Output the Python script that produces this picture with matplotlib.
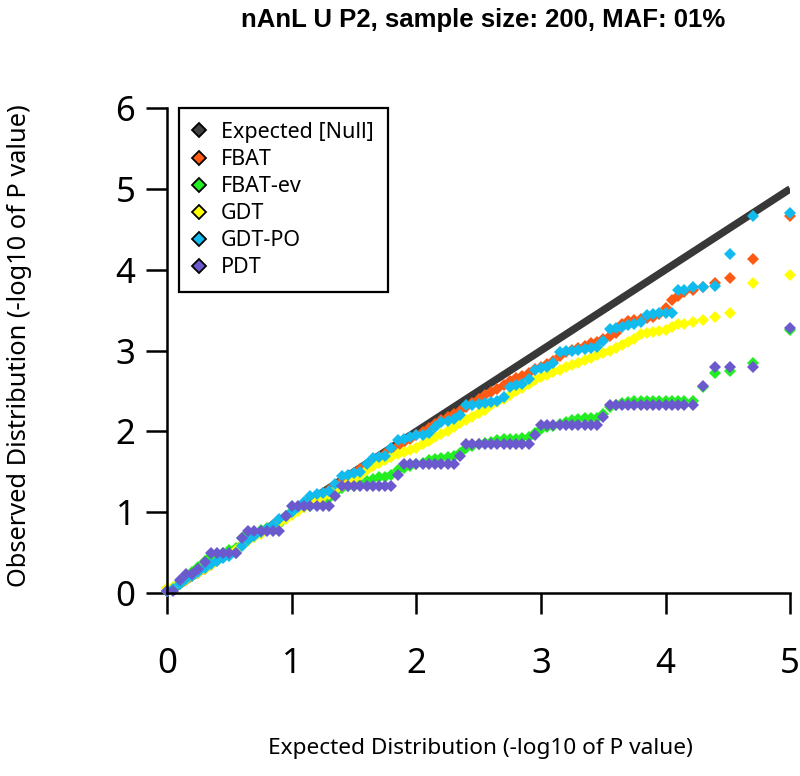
import matplotlib
matplotlib.use("Agg")
import matplotlib.pyplot as plt
from matplotlib.lines import Line2D

# expected -log10(p) positions (dense part, then the ten smallest p values)
expected = [0.00, 0.05, 0.10, 0.15, 0.20, 0.25, 0.30, 0.35, 0.40, 0.45,
            0.50, 0.55, 0.60, 0.65, 0.70, 0.75, 0.80, 0.85, 0.90, 0.95,
            1.00, 1.05, 1.10, 1.15, 1.20, 1.25, 1.30, 1.35, 1.40, 1.45,
            1.50, 1.55, 1.60, 1.65, 1.70, 1.75, 1.80, 1.85, 1.90, 1.95,
            2.00, 2.05, 2.10, 2.15, 2.20, 2.25, 2.30, 2.35, 2.40, 2.45,
            2.50, 2.55, 2.60, 2.65, 2.70, 2.75, 2.80, 2.85, 2.90, 2.95,
            3.00, 3.05, 3.10, 3.15, 3.20, 3.25, 3.30, 3.35, 3.40, 3.45,
            3.50, 3.55, 3.60, 3.65, 3.70, 3.75, 3.80, 3.85, 3.90, 3.95,
            4.00, 4.05, 4.10, 4.15, 4.22, 4.30, 4.40, 4.52, 4.70, 5.00]

fbat = [0.02, 0.06, 0.11, 0.16, 0.21, 0.25, 0.30, 0.35, 0.40, 0.45,
        0.49, 0.54, 0.60, 0.65, 0.70, 0.74, 0.79, 0.84, 0.89, 0.94,
        0.99, 1.04, 1.09, 1.14, 1.19, 1.24, 1.28, 1.33, 1.38, 1.43,
        1.48, 1.53, 1.58, 1.63, 1.68, 1.72, 1.77, 1.82, 1.87, 1.91,
        1.95, 1.99, 2.04, 2.09, 2.14, 2.18, 2.21, 2.25, 2.30, 2.35,
        2.40, 2.45, 2.49, 2.52, 2.57, 2.62, 2.66, 2.69, 2.72, 2.77,
        2.80, 2.83, 2.87, 2.93, 2.98, 3.01, 3.03, 3.06, 3.09, 3.11,
        3.14, 3.18, 3.22, 3.33, 3.37, 3.38, 3.39, 3.40, 3.41, 3.45,
        3.52, 3.62, 3.68, 3.72, 3.75, 3.78, 3.83, 3.90, 4.13, 4.66]

fbat_ev = [0.03, 0.05, 0.14, 0.22, 0.26, 0.32, 0.40, 0.46, 0.48, 0.50,
           0.53, 0.56, 0.68, 0.74, 0.76, 0.78, 0.80, 0.82, 0.86, 0.95,
           1.02, 1.04, 1.06, 1.08, 1.10, 1.13, 1.17, 1.24, 1.30, 1.32,
           1.33, 1.35, 1.38, 1.41, 1.43, 1.44, 1.46, 1.52, 1.55, 1.57,
           1.59, 1.61, 1.64, 1.66, 1.67, 1.68, 1.69, 1.73, 1.80, 1.82,
           1.84, 1.85, 1.87, 1.89, 1.90, 1.91, 1.91, 1.92, 1.93, 1.98,
           2.03, 2.05, 2.07, 2.09, 2.12, 2.14, 2.15, 2.16, 2.17, 2.17,
           2.22, 2.30, 2.33, 2.35, 2.36, 2.37, 2.37, 2.38, 2.38, 2.38,
           2.38, 2.38, 2.38, 2.38, 2.38, 2.55, 2.72, 2.75, 2.84, 3.25]

gdt = [0.06, 0.07, 0.11, 0.16, 0.21, 0.25, 0.30, 0.35, 0.39, 0.44,
       0.48, 0.53, 0.59, 0.64, 0.69, 0.73, 0.78, 0.82, 0.87, 0.92,
       0.97, 1.01, 1.06, 1.10, 1.14, 1.19, 1.23, 1.27, 1.32, 1.36,
       1.41, 1.46, 1.52, 1.57, 1.61, 1.65, 1.68, 1.72, 1.75, 1.77,
       1.80, 1.84, 1.88, 1.93, 1.97, 2.01, 2.05, 2.10, 2.14, 2.18,
       2.23, 2.27, 2.32, 2.36, 2.40, 2.45, 2.50, 2.54, 2.58, 2.63,
       2.67, 2.70, 2.73, 2.76, 2.79, 2.82, 2.85, 2.88, 2.91, 2.94,
       2.97, 3.00, 3.03, 3.07, 3.10, 3.14, 3.20, 3.22, 3.23, 3.24,
       3.25, 3.29, 3.33, 3.33, 3.35, 3.38, 3.42, 3.47, 3.83, 3.93]

gdt_po = [0.02, 0.05, 0.11, 0.17, 0.21, 0.26, 0.31, 0.36, 0.40, 0.43,
          0.46, 0.50, 0.58, 0.66, 0.71, 0.76, 0.79, 0.84, 0.91, 0.95,
          1.00, 1.06, 1.12, 1.20, 1.23, 1.24, 1.26, 1.35, 1.45, 1.46,
          1.48, 1.50, 1.60, 1.67, 1.68, 1.70, 1.80, 1.89, 1.91, 1.93,
          1.95, 1.96, 1.98, 2.05, 2.12, 2.13, 2.15, 2.20, 2.32, 2.33,
          2.34, 2.35, 2.36, 2.38, 2.42, 2.55, 2.57, 2.58, 2.65, 2.76,
          2.78, 2.79, 2.85, 2.98, 3.00, 3.00, 3.01, 3.02, 3.03, 3.04,
          3.12, 3.27, 3.28, 3.29, 3.31, 3.33, 3.35, 3.44, 3.45, 3.46,
          3.46, 3.46, 3.75, 3.75, 3.79, 3.79, 3.80, 4.20, 4.66, 4.70]

pdt = [0.03, 0.03, 0.16, 0.24, 0.24, 0.30, 0.38, 0.49, 0.49, 0.49,
       0.49, 0.49, 0.68, 0.77, 0.77, 0.77, 0.77, 0.77, 0.77, 0.95,
       1.08, 1.08, 1.08, 1.08, 1.08, 1.08, 1.08, 1.20, 1.33, 1.33,
       1.33, 1.33, 1.33, 1.33, 1.33, 1.33, 1.33, 1.46, 1.59, 1.59,
       1.59, 1.59, 1.59, 1.59, 1.59, 1.59, 1.59, 1.70, 1.84, 1.84,
       1.84, 1.84, 1.84, 1.84, 1.84, 1.84, 1.84, 1.84, 1.84, 1.95,
       2.08, 2.08, 2.08, 2.08, 2.08, 2.08, 2.08, 2.08, 2.08, 2.08,
       2.18, 2.32, 2.32, 2.32, 2.32, 2.32, 2.32, 2.32, 2.32, 2.32,
       2.32, 2.32, 2.32, 2.32, 2.32, 2.56, 2.79, 2.79, 2.79, 3.28]

labels = ["Expected [Null]", "FBAT", "FBAT-ev", "GDT", "GDT-PO", "PDT"]
colors = ["#404040", "#ff5a14", "#22ee22", "#ffff00", "#11bbee", "#6a5acd"]
series = [fbat, fbat_ev, gdt, gdt_po, pdt]

plt.rcParams["font.family"] = ["Noto Sans", "DejaVu Sans"]

fig = plt.figure(figsize=(8, 7.76), dpi=100)
ax = fig.add_axes([0.209, 0.2358, 0.7787, 0.625])

# null line
ax.plot([0, 5], [0, 5], color="#383838", lw=5.4, solid_capstyle="butt", zorder=1)

for ys, c in zip(series, colors[1:]):
    ax.plot(expected, ys, ls="none", marker="D", ms=6.5, mfc=c, mec=c,
            mew=0, clip_on=False, zorder=2)

ax.set_xlim(0, 5)
ax.set_ylim(0, 6)
ax.set_xticks([0, 1, 2, 3, 4, 5])
ax.set_yticks([0, 1, 2, 3, 4, 5, 6])
for side in ["top", "right"]:
    ax.spines[side].set_visible(False)
for side in ["left", "bottom"]:
    ax.spines[side].set_linewidth(1.8)
ax.tick_params(direction="out", length=15, width=1.8, labelsize=25)
ax.tick_params(axis="x", pad=24)
ax.tick_params(axis="y", pad=8)

handles = [Line2D([], [], ls="none", marker="D", ms=7, mfc=c, mec="black", mew=1.3)
           for c in colors]
leg = ax.legend(handles, labels, loc="upper left", bbox_to_anchor=(0.019, 1.0),
                borderaxespad=0, fontsize=15.5, frameon=True, fancybox=False,
                edgecolor="black", framealpha=1, handlelength=0.56,
                handletextpad=0.74, labelspacing=0.28, borderpad=0.65)
leg.get_frame().set_linewidth(1.6)

fig.text(0.604, 0.974, "nAnL U P2, sample size: 200, MAF: 01%", ha="center",
         va="center", fontsize=18.5, fontweight="bold",
         family=["Liberation Sans Narrow", "Liberation Sans", "DejaVu Sans"])
fig.text(0.6, 0.036, "Expected Distribution (-log10 of P value)", ha="center",
         va="center", fontsize=16.3)
fig.text(0.025, 0.555, "Observed Distribution (-log10 of P value)", ha="center",
         va="center", rotation=90, fontsize=18.3)

fig.savefig("out.png", dpi=100)
